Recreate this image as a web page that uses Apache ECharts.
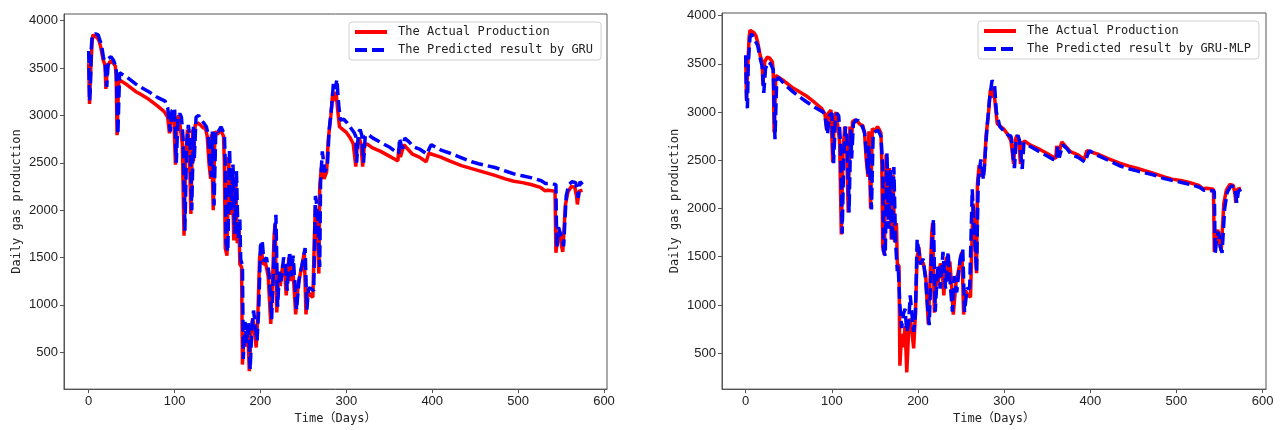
<!DOCTYPE html>
<html>
<head>
<meta charset="utf-8">
<script src="https://cdn.jsdelivr.net/npm/echarts@6/dist/echarts.min.js"></script>
<style>
  html, body { margin: 0; padding: 0; background: #fff; }
  #chart { width: 1280px; height: 430px; }
</style>
</head>
<body>
<div id="chart"></div>
<script>
// actual daily gas production (same in both panels)
var actualDays = [0, 1, 2, 4, 5, 7, 10, 12, 14, 17, 19,
  20, 22, 25, 28, 31, 32, 33, 35, 37, 45,
  55, 60, 70, 80, 88, 92, 94, 96, 99, 101,
  103, 105, 107, 109, 111, 113, 115, 117, 119, 121,
  122, 124, 127, 130, 133, 136, 138, 140, 142, 143,
  145, 147, 150, 153, 155, 157, 158, 159, 161, 163,
  165, 167, 169, 171, 173, 175, 176, 178, 179, 181,
  183, 185, 187, 189, 191, 193, 195, 197, 199, 201,
  203, 206, 209, 212, 214, 216, 217, 219, 221, 223,
  226, 228, 230, 233, 235, 237, 239, 241, 244, 248,
  251, 253, 255, 258, 261, 263, 264, 266, 268, 269,
  271, 274, 277, 279, 282, 284, 286, 288, 290, 292,
  296, 300, 304, 308, 310, 311, 313, 315, 317, 319,
  321, 324, 330, 340, 350, 356, 360, 361, 363, 365,
  367, 372, 377, 385, 393, 396, 398, 410, 420, 434,
  445, 453, 472, 485, 495, 505, 515, 526, 531, 535,
  543, 544, 546, 548, 550, 552, 555, 558, 562, 566,
  568, 569, 571, 575];
var actualValues = [3550, 3120, 3400, 3780, 3850, 3840, 3820, 3790, 3720, 3580, 3530,
  3280, 3520, 3570, 3560, 3520, 3420, 2790, 3380, 3400, 3320,
  3250, 3225, 3170, 3100, 3040, 2980, 2810, 2990, 3020, 2480,
  2950, 3000, 2990, 2700, 1730, 2600, 2850, 2700, 1960, 2850,
  2520, 2900, 2920, 2900, 2870, 2860, 2780, 2500, 2330, 2800,
  2000, 2830, 2800, 2850, 2820, 2780, 2480, 1600, 1520, 2560,
  1950, 2420, 1680, 2350, 1650, 1850, 1430, 1400, 370, 700,
  560, 780, 300, 700, 860, 720, 550, 900, 1500, 1600,
  1430, 1440, 1300, 800, 1250, 1750, 1850, 920, 1300, 1200,
  1430, 1380, 1100, 1500, 1250, 1450, 1200, 900, 1220, 1400,
  1550, 900, 1150, 1100, 1080, 1780, 2050, 1800, 1330, 2250,
  2450, 2330, 2400, 2750, 3000, 3230, 3150, 3250, 3050, 2880,
  2850, 2820, 2770, 2700, 2680, 2460, 2720, 2760, 2700, 2460,
  2680, 2700, 2660, 2620, 2570, 2540, 2520, 2650, 2560, 2550,
  2690, 2640, 2590, 2560, 2510, 2600, 2620, 2560, 2520, 2470,
  2440, 2420, 2370, 2330, 2305, 2290, 2270, 2240, 2205, 2210,
  2200, 1550, 1700, 1780, 1650, 1560, 2050, 2190, 2250, 2240,
  2150, 2060, 2200, 2210];

// GRU prediction (left panel)
var gruDays = [0, 1, 2, 3, 4, 5, 8, 11, 13, 15, 17, 19,
  21, 23, 26, 29, 32, 34, 36, 38, 45, 55,
  60, 70, 80, 89, 92, 95, 97, 100, 102, 104,
  106, 108, 110, 112, 114, 116, 118, 120, 122, 123,
  125, 128, 131, 134, 137, 139, 141, 143, 144, 146,
  148, 151, 154, 156, 158, 159, 160, 162, 164, 166,
  168, 170, 172, 174, 176, 177, 179, 180, 182, 184,
  186, 188, 190, 192, 194, 196, 198, 200, 202, 204,
  207, 210, 213, 215, 217, 218, 220, 222, 224, 227,
  229, 231, 234, 236, 238, 240, 242, 245, 249, 252,
  254, 256, 259, 262, 264, 265, 267, 269, 270, 272,
  275, 278, 280, 283, 285, 287, 289, 291, 293, 297,
  301, 305, 309, 311, 312, 314, 316, 318, 320, 322,
  325, 331, 341, 351, 357, 361, 362, 364, 366, 368,
  373, 378, 386, 394, 397, 399, 411, 421, 435, 446,
  454, 473, 486, 496, 506, 516, 527, 532, 536, 544,
  545, 547, 549, 551, 553, 556, 559, 563, 567, 569,
  570, 572, 575];
var gruValues = [3680, 3150, 3300, 3700, 3840, 3860, 3860, 3850, 3830, 3740, 3620, 3560,
  3300, 3600, 3620, 3580, 3500, 2800, 3450, 3440, 3400, 3330,
  3300, 3250, 3190, 3150, 3080, 2830, 3050, 3080, 2500, 2980,
  3020, 2980, 2750, 1780, 2650, 2900, 2750, 2000, 2880, 2550,
  2980, 3000, 2950, 2920, 2880, 2800, 2520, 2350, 2830, 2050,
  2850, 2830, 2880, 2860, 2800, 2500, 1650, 1560, 2650, 2000,
  2480, 1750, 2420, 1700, 1900, 1480, 1420, 430, 820, 600,
  820, 320, 760, 940, 780, 620, 950, 1620, 1680, 1460,
  1500, 1330, 850, 1300, 1830, 1950, 980, 1350, 1250, 1500,
  1420, 1150, 1560, 1300, 1520, 1250, 950, 1270, 1450, 1600,
  950, 1180, 1170, 1150, 2150, 2100, 1850, 1400, 2300, 2620,
  2400, 2480, 2850, 3100, 3350, 3280, 3380, 3120, 2950, 2960,
  2920, 2870, 2820, 2780, 2500, 2820, 2850, 2790, 2500, 2780,
  2800, 2760, 2710, 2660, 2620, 2600, 2760, 2680, 2650, 2760,
  2720, 2670, 2640, 2590, 2660, 2690, 2630, 2600, 2550, 2510,
  2490, 2450, 2410, 2380, 2360, 2340, 2310, 2280, 2280, 2270,
  1600, 1820, 1830, 1700, 1620, 2150, 2270, 2300, 2290, 2200,
  2130, 2300, 2270];

// GRU-MLP prediction (right panel)
var mlpDays = [0, 1, 2, 3, 5, 7, 10, 14, 17, 19,
  21, 23, 26, 29, 32, 34, 36, 38, 45, 55,
  60, 70, 80, 90, 92, 95, 97, 100, 102, 104,
  106, 108, 110, 112, 114, 116, 118, 120, 122, 123,
  125, 128, 131, 134, 138, 141, 142, 143, 146, 148,
  151, 154, 157, 159, 160, 162, 164, 166, 168, 170,
  172, 174, 176, 177, 179, 181, 183, 185, 187, 189,
  191, 193, 195, 197, 199, 201, 203, 206, 209, 211,
  213, 215, 216, 218, 220, 223, 226, 229, 232, 235,
  237, 240, 242, 245, 249, 252, 254, 257, 260, 263,
  265, 268, 270, 273, 276, 280, 283, 286, 289, 291,
  295, 300, 305, 308, 312, 314, 316, 318, 321, 323,
  325, 331, 341, 351, 357, 361, 362, 364, 366, 368,
  373, 378, 386, 394, 397, 399, 411, 421, 435, 446,
  454, 473, 486, 496, 506, 516, 527, 532, 536, 544,
  545, 547, 549, 551, 553, 556, 559, 563, 567, 569,
  570, 572, 575];
var mlpValues = [3590, 3150, 3040, 3500, 3780, 3810, 3760, 3690, 3550, 3480,
  3200, 3450, 3520, 3500, 3440, 2720, 3330, 3360, 3290, 3210,
  3175, 3110, 3050, 3000, 2960, 2770, 2960, 2990, 2470, 2900,
  2990, 2960, 2700, 1740, 2580, 2850, 2680, 1960, 2820, 2520,
  2880, 2920, 2910, 2880, 2790, 2480, 2350, 2650, 1990, 2780,
  2800, 2810, 2750, 2450, 1560, 1510, 2580, 1790, 2400, 1660,
  2430, 1650, 1350, 1410, 1000, 760, 900, 960, 720, 800,
  1100, 900, 720, 900, 1680, 1560, 1420, 1480, 1250, 1000,
  790, 1300, 1620, 1890, 930, 1410, 1170, 1550, 1170, 1550,
  1270, 930, 1300, 1130, 1480, 1580, 930, 1170, 1170, 2200,
  1820, 1340, 2300, 2510, 2300, 2820, 3130, 3330, 3270, 3000,
  2850, 2800, 2760, 2750, 2420, 2720, 2760, 2700, 2410, 2680,
  2700, 2640, 2590, 2540, 2510, 2500, 2640, 2530, 2530, 2660,
  2620, 2560, 2530, 2480, 2560, 2600, 2540, 2500, 2440, 2410,
  2390, 2350, 2310, 2290, 2270, 2250, 2220, 2190, 2190, 2180,
  1530, 1700, 1760, 1600, 1540, 2000, 2170, 2230, 2230, 2140,
  2060, 2180, 2200];

var xTicks = [0, 100, 200, 300, 400, 500, 600];
var yTicks = [500, 1000, 1500, 2000, 2500, 3000, 3500, 4000];

var ACTUAL = "The Actual Production";
var axisColor = "#555";
var textColor = "#222";
var monoFont = "'DejaVu Sans Mono', 'Noto Sans CJK SC', monospace";

function toPairs(days, values) {
  return days.map(function (d, i) {
    return [d, values[i]];
  });
}

function plainNumber(v) {
  return String(v);
}

function makeXAxis(idx, min, max) {
  return {
    type: "value",
    gridIndex: idx,
    min: min,
    max: max,
    name: "Time（Days）",
    nameLocation: "middle",
    nameGap: 22,
    nameTextStyle: { fontFamily: monoFont, fontSize: 12, color: textColor },
    axisLine: { show: true, onZero: false, lineStyle: { color: axisColor, width: 1 } },
    axisTick: { show: true, length: 4, customValues: xTicks, lineStyle: { color: axisColor } },
    axisLabel: {
      customValues: xTicks,
      formatter: plainNumber,
      margin: 6,
      fontFamily: "'Liberation Sans', Arial, sans-serif",
      fontSize: 13,
      color: textColor,
    },
    splitLine: { show: false },
  };
}

function makeYAxis(idx, min, max) {
  return {
    type: "value",
    gridIndex: idx,
    min: min,
    max: max,
    name: "Daily gas production",
    nameLocation: "middle",
    nameGap: 41,
    nameTextStyle: { fontFamily: monoFont, fontSize: 12, color: textColor },
    axisLine: { show: true, onZero: false, lineStyle: { color: axisColor, width: 1 } },
    axisTick: { show: true, length: 4, customValues: yTicks, lineStyle: { color: axisColor } },
    axisLabel: {
      customValues: yTicks,
      formatter: plainNumber,
      margin: 6,
      fontFamily: "'Liberation Sans', Arial, sans-serif",
      fontSize: 13,
      color: textColor,
    },
    splitLine: { show: false },
  };
}

function makeLegend(left, top, names) {
  return {
    orient: "vertical",
    left: left,
    top: top,
    itemWidth: 32,
    itemHeight: 14,
    itemGap: 6,
    padding: [4, 8, 4, 4],
    borderColor: "#d0d0d0",
    borderWidth: 1,
    borderRadius: 3,
    backgroundColor: "#fff",
    itemStyle: { opacity: 0 },
    lineStyle: { width: 4 },
    textStyle: { fontFamily: monoFont, fontSize: 12, color: textColor, padding: [0, 0, 0, 6] },
    data: names,
  };
}

function makeLine(name, idx, days, values, color, dashed) {
  return {
    name: name,
    type: "line",
    xAxisIndex: idx,
    yAxisIndex: idx,
    data: toPairs(days, values),
    showSymbol: false,
    symbol: "none",
    itemStyle: { color: color },
    lineStyle: { color: color, width: 3.5, type: dashed ? [12, 5] : "solid" },
    emphasis: { disabled: true },
  };
}

var myChart = echarts.init(document.getElementById("chart"));
var option = {
  animation: false,
  backgroundColor: "#fff",
  grid: [
    { left: 64, top: 14, width: 543, height: 378, show: true, borderColor: axisColor, borderWidth: 1 },
    { left: 722, top: 13, width: 544, height: 379, show: true, borderColor: axisColor, borderWidth: 1 },
  ],
  xAxis: [makeXAxis(0, -28.75, 603.5), makeXAxis(1, -27.5, 604)],
  yAxis: [makeYAxis(0, 111, 4070), makeYAxis(1, 127, 4028)],
  legend: [
    makeLegend(349, 22, [ACTUAL, "The Predicted result by GRU"]),
    makeLegend(978, 21, [ACTUAL, "The Predicted result by GRU-MLP"]),
  ],
  series: [
    makeLine(ACTUAL, 0, actualDays, actualValues, "#ff0000", false),
    makeLine("The Predicted result by GRU", 0, gruDays, gruValues, "#0000ff", true),
    makeLine(ACTUAL, 1, actualDays, actualValues, "#ff0000", false),
    makeLine("The Predicted result by GRU-MLP", 1, mlpDays, mlpValues, "#0000ff", true),
  ],
};
myChart.setOption(option);
</script>
</body>
</html>
